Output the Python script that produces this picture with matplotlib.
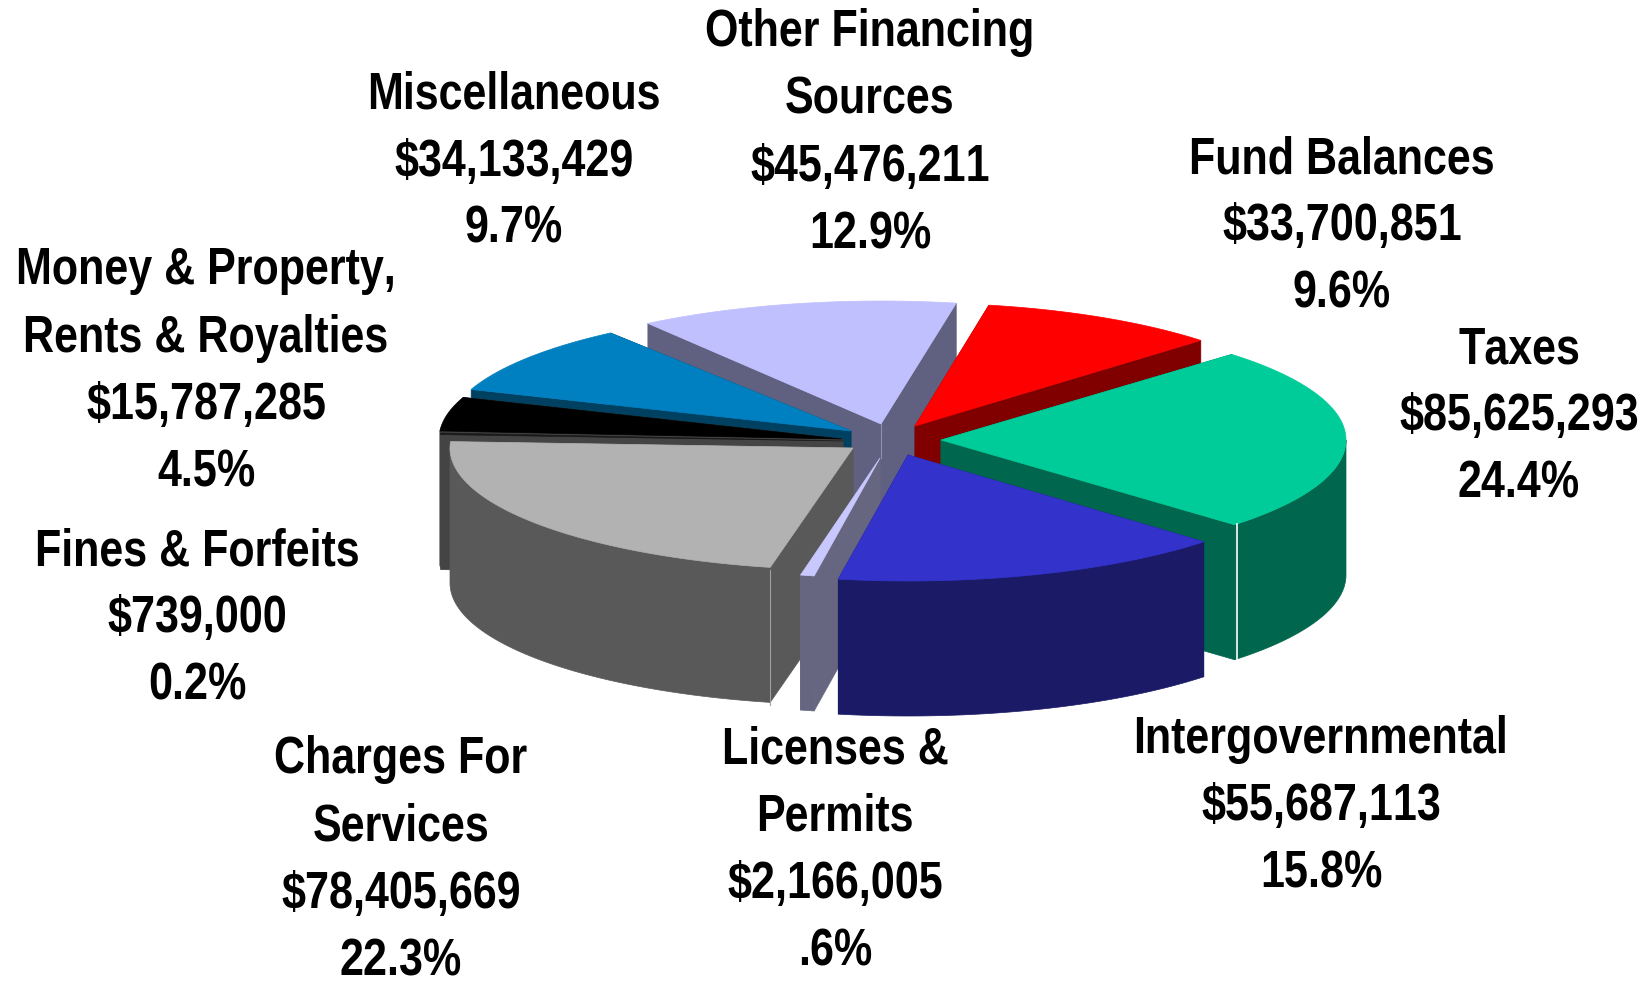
import matplotlib
matplotlib.use("Agg")
import numpy as np
import matplotlib.pyplot as plt
from matplotlib.patches import Polygon
from matplotlib import font_manager as fm
from fontTools.ttLib import TTFont

categories = ["Taxes", "Intergovernmental", "Licenses &\nPermits", "Charges For\nServices",
              "Fines & Forfeits", "Money & Property,\nRents & Royalties", "Miscellaneous",
              "Other Financing\nSources", "Fund Balances"]
values = [85625293, 55687113, 2166005, 78405669, 739000, 15787285, 34133429, 45476211, 33700851]
percent_labels = ["24.4%", "15.8%", ".6%", "22.3%", "0.2%", "4.5%", "9.7%", "12.9%", "9.6%"]

top_colors = ["#00CC99", "#3333CC", "#C8C8FF", "#B2B2B2", "#1A1A1A", "#000000", "#0080C0", "#C0C0FF", "#FF0000"]
side_colors = ["#00664D", "#1A1A66", "#666680", "#595959", "#444444", "#404040", "#004060", "#606080", "#800000"]

START = 44.1
DEPTH = 135
# slice apex placement, ellipse radii and small sweep adjustments (style of the exploded 3-D pie)
apex = [(941, 440), (908, 455), (880, 458), (853, 448), (843, 441), (842, 439), (851, 431), (881, 424), (915, 426)]
radii = [(405, 123), (408, 126), (360, 120), (403, 122), (403, 122), (403, 122), (404, 122), (405, 123), (398, 123)]
start_pad = [0, 0, 0, 0.9, 0, 0, 0, 0, 0.7]
end_pad = [0, -0.7, 0, 0, 0, 0, -1.4, -0.7, 0]
draw_order = [7, 6, 8, 0, 5, 4, 3, 2, 1]

label_pos = [(1519, 417), (1321, 807), (835, 851), (401, 861), (197, 619), (206, 372), (514, 162), (870, 134), (1342, 227)]


def make_narrow(scale=0.83, family="Sketch Narrow Bold"):
    """Condensed copy of Liberation Sans Bold, since no narrow bold face is installed."""
    path = fm.findfont(fm.FontProperties(family="Liberation Sans", weight="bold"))
    font = TTFont(path)
    glyf = font["glyf"]
    hmtx = font["hmtx"]
    for name in glyf.keys():
        g = glyf[name]
        if g.isComposite():
            for c in g.components:
                c.x = int(round(c.x * scale))
        elif g.numberOfContours > 0:
            g.coordinates.scale((scale, 1))
            g.coordinates.toInt()
        g.removeHinting()
    for name in glyf.keys():
        glyf[name].recalcBounds(glyf)
        adv, lsb = hmtx.metrics[name]
        hmtx.metrics[name] = (int(round(adv * scale)), getattr(glyf[name], "xMin", 0) or 0)
    for tag in ("fpgm", "prep", "cvt ", "kern", "GPOS", "GSUB", "GDEF", "hdmx", "VDMX", "LTSH"):
        if tag in font:
            del font[tag]
    for rec in font["name"].names:
        if rec.nameID in (1, 4, 16):
            rec.string = family
        elif rec.nameID == 6:
            rec.string = family.replace(" ", "")
        elif rec.nameID in (2, 17):
            rec.string = "Regular"
    font["OS/2"].usWeightClass = 400
    font["OS/2"].fsSelection = 0x40
    font["head"].macStyle = 0
    font.save("narrow.ttf")
    fm.fontManager.addfont("narrow.ttf")
    return family


try:
    label_family = [make_narrow(), "Liberation Sans"]
    label_weight = "normal"
except Exception:
    label_family = ["Liberation Sans"]
    label_weight = "bold"

fig = plt.figure(figsize=(16.52, 9.81), dpi=100)
ax = fig.add_axes([0, 0, 1, 1])
ax.set_xlim(0, 1652)
ax.set_ylim(981, 0)
ax.axis("off")

total = sum(values)
edges = START - np.cumsum([0] + values) / total * 360


def draw_slice(i):
    a0, a1 = edges[i] + start_pad[i], edges[i + 1] - end_pad[i]
    deg = np.linspace(a0, a1, 120)
    t = np.radians(deg)
    cx, cy = apex[i]
    rx, ry = radii[i]
    x = cx + rx * np.cos(t)
    y = cy - ry * np.sin(t)
    side = side_colors[i]
    # two flat cut faces
    for k in (0, -1):
        ax.add_patch(Polygon([(cx, cy), (x[k], y[k]), (x[k], y[k] + DEPTH), (cx, cy + DEPTH)],
                             closed=True, fc=side, ec=side, lw=0.5))
    # curved outer wall: front-facing part of the rim only
    front = np.radians(np.unique(np.clip(deg, -180, 0)))
    if front.size > 1:
        fx = cx + rx * np.cos(front)
        fy = cy - ry * np.sin(front)
        wall = np.vstack([np.c_[fx, fy], np.c_[fx, fy + DEPTH][::-1]])
        ax.add_patch(Polygon(wall, closed=True, fc=side, ec=side, lw=0.5))
    # top face
    ax.add_patch(Polygon(np.vstack([[(cx, cy)], np.c_[x, y]]), closed=True,
                         fc=top_colors[i], ec=top_colors[i], lw=0.5))


for i in draw_order:
    draw_slice(i)

# pale hairlines on the slice corners
ax.plot([1237, 1237], [524, 659], color="white", lw=1.2)
ax.plot([770, 770], [570, 705], color="#A0A0A0", lw=0.8)
ax.plot([881, 881], [424, 458], color="#9090A8", lw=0.8)

for i, (x, y) in enumerate(label_pos):
    txt = f"{categories[i]}\n${values[i]:,}\n{percent_labels[i]}"
    ax.text(x, y, txt, ha="center", va="center", color="black", fontweight=label_weight, fontsize=37.4,
            family=label_family, linespacing=1.485)

fig.savefig("out.png", dpi=100, facecolor="white")
